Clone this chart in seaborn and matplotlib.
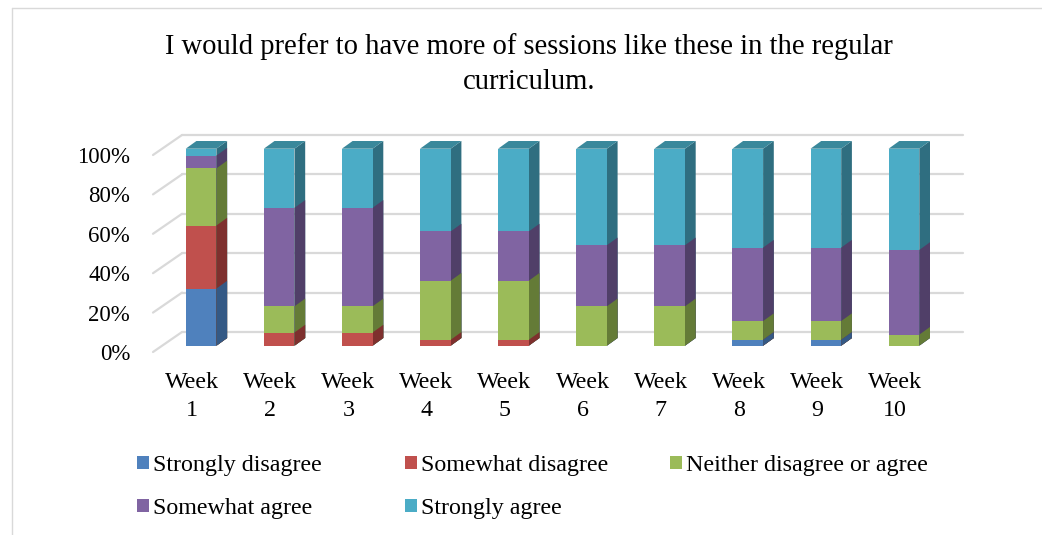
import numpy as np
import pandas as pd
import matplotlib
matplotlib.use("Agg")
import matplotlib.pyplot as plt
import seaborn as sns
from matplotlib.patches import Polygon, Patch
from matplotlib.lines import Line2D
from matplotlib.transforms import ScaledTranslation, IdentityTransform

# ---------------- data ----------------
weeks = [f"Week\n{i}" for i in range(1, 11)]
series_names = ["Strongly disagree", "Somewhat disagree", "Neither disagree or agree",
                "Somewhat agree", "Strongly agree"]
strongly_disagree = [29, 0, 0, 0, 0, 0, 0, 3, 3, 0]
somewhat_disagree = [32, 6.7, 6.7, 3, 3, 0, 0, 0, 0, 0]
neither = [29, 13.3, 13.3, 30, 30, 20, 20, 9.5, 9.5, 5.6]
somewhat_agree = [6.5, 50, 50, 25, 25, 31, 31, 37.3, 37.3, 43]
strongly_agree = [3.5, 30, 30, 42, 42, 49, 49, 50.2, 50.2, 51.4]
y_ticks = [0, 20, 40, 60, 80, 100]
title = "I would prefer to have more of sessions like these in the regular\ncurriculum."

front_cols = ["#4F81BD", "#C0504D", "#9BBB59", "#8064A2", "#4BACC6"]
side_cols = ["#345985", "#7E302E", "#647B37", "#503F68", "#2F6E80"]
top_cols = ["#3F6CA2", "#9E403D", "#809D48", "#68508A", "#3A889B"]

# ---------------- setup ----------------
sns.set_theme(style="white")
plt.rcParams['font.family'] = ['Liberation Serif', 'DejaVu Serif']
plt.rcParams['text.color'] = 'black'
plt.rcParams['xtick.color'] = 'black'
plt.rcParams['ytick.color'] = 'black'
FS_TICK = 16.5
FS_X = 17.3
FS_LEG = 17.3
FS_TITLE = 20.6

W, H = 1042, 535
fig = plt.figure(figsize=(W / 100, H / 100), dpi=100)
ax = fig.add_axes([153 / W, 1 - 352 / H, 781 / W, 197 / H])
ax.set_facecolor('none')

vals = np.array([strongly_disagree, somewhat_disagree, neither, somewhat_agree, strongly_agree])
cum = np.cumsum(vals, axis=0)

BAR_W = 0.393
FRONT = (9, 6.3)      # px offset of bar front face from front plane
DEPTH = (10.7, 7.7)   # px depth of bar
WALL = (29, 20)       # px offset of back wall from front plane


def off(dx, dy):
    return ax.transData + ScaledTranslation(dx / 100, dy / 100, fig.dpi_scale_trans)


# draw stacked bars (cumulative, largest first) with seaborn
layer_patches = {}
for k in range(4, -1, -1):
    df = pd.DataFrame({"week": weeks, "value": cum[k]})
    n0 = len(ax.patches)
    sns.barplot(data=df, x="week", y="value", color=front_cols[k], saturation=1,
                width=BAR_W, errorbar=None, ax=ax, linewidth=0, edgecolor="none")
    layer_patches[k] = ax.patches[n0:]

ax.set_xlim(-0.5, 9.5)
ax.set_ylim(0, 100)
ax.set_autoscale_on(False)


def to_disp(x, y, d):
    p = ax.transData.transform((x, y))
    return (p[0] + d[0], p[1] + d[1])


# back wall gridlines + left diagonals
for v in y_ticks:
    ax.plot([-0.5, 9.5], [v, v], transform=off(*WALL), color="#D9D9D9", lw=1.6,
            zorder=1, clip_on=False)
    a = to_disp(-0.5, v, (0, 0))
    b = to_disp(-0.5, v, WALL)
    ax.add_line(Line2D([a[0], b[0]], [a[1], b[1]], transform=IdentityTransform(),
                       color="#D9D9D9", lw=1.6, zorder=1, clip_on=False))

# 3D faces
for order, k in enumerate(range(4, -1, -1)):
    for p in layer_patches[k]:
        p.set_transform(off(*FRONT))
        p.set_zorder(3 + 0.1 * order)
        p.set_clip_on(False)
        xl = p.get_x()
        xr = xl + p.get_width()
        y0 = p.get_y()
        y1 = y0 + p.get_height()
        if p.get_height() <= 0:
            continue
        fa = to_disp(xr, y0, FRONT)
        fb = to_disp(xr, y1, FRONT)
        side = [fa, fb, (fb[0] + DEPTH[0], fb[1] + DEPTH[1]), (fa[0] + DEPTH[0], fa[1] + DEPTH[1])]
        ax.add_patch(Polygon(side, closed=True, transform=IdentityTransform(),
                             facecolor=side_cols[k], edgecolor="none",
                             zorder=2.5 + 0.1 * order, clip_on=False))
        if k == 4:
            ta = to_disp(xl, y1, FRONT)
            tb = to_disp(xr, y1, FRONT)
            top = [ta, tb, (tb[0] + DEPTH[0], tb[1] + DEPTH[1]), (ta[0] + DEPTH[0], ta[1] + DEPTH[1])]
            ax.add_patch(Polygon(top, closed=True, transform=IdentityTransform(),
                                 facecolor=top_cols[k], edgecolor="none",
                                 zorder=2.5, clip_on=False))

# axes styling
for s in ax.spines.values():
    s.set_visible(False)
ax.set_xlabel("")
ax.set_ylabel("")
ax.set_yticks(y_ticks)
ax.set_yticklabels([f"{v}%" for v in y_ticks])
ax.set_xticks(range(len(weeks)))
ax.set_xticklabels(weeks, linespacing=1.45)
ax.tick_params(axis="y", length=0, pad=16.5, labelsize=FS_TICK, labelcolor="black")
ax.tick_params(axis="x", length=0, pad=14.5, labelsize=FS_X, labelcolor="black")
ax.grid(False)

# title
fig.text(529 / W, 1 - 64.5 / H, title, ha="center", va="center", fontsize=FS_TITLE,
         linespacing=1.45, color="black")

# legend (3 columns laid out row-wise)
handles = [Patch(facecolor=c, edgecolor="none") for c in front_cols]
cols = [[0, 3], [1, 4], [2]]
col_x = [137, 405, 670]
for cx, idx in zip(col_x, cols):
    leg = fig.legend([handles[i] for i in idx], [series_names[i] for i in idx],
                     loc="upper left", bbox_to_anchor=(cx / W, 1 - 455 / H),
                     frameon=False, fontsize=FS_LEG, handlelength=0.5, handleheight=0.5,
                     handletextpad=0.17, borderpad=0, borderaxespad=0, labelspacing=0.92)
    for t in leg.get_texts():
        t.set_color("black")

# outer frame
fig.add_artist(Line2D([12 / W, 1], [1 - 8 / H, 1 - 8 / H], transform=fig.transFigure,
                      color="#D9D9D9", lw=1))
fig.add_artist(Line2D([12 / W, 12 / W], [0, 1 - 8 / H], transform=fig.transFigure,
                      color="#D9D9D9", lw=1))

fig.savefig("out.png", dpi=100, facecolor="white")
